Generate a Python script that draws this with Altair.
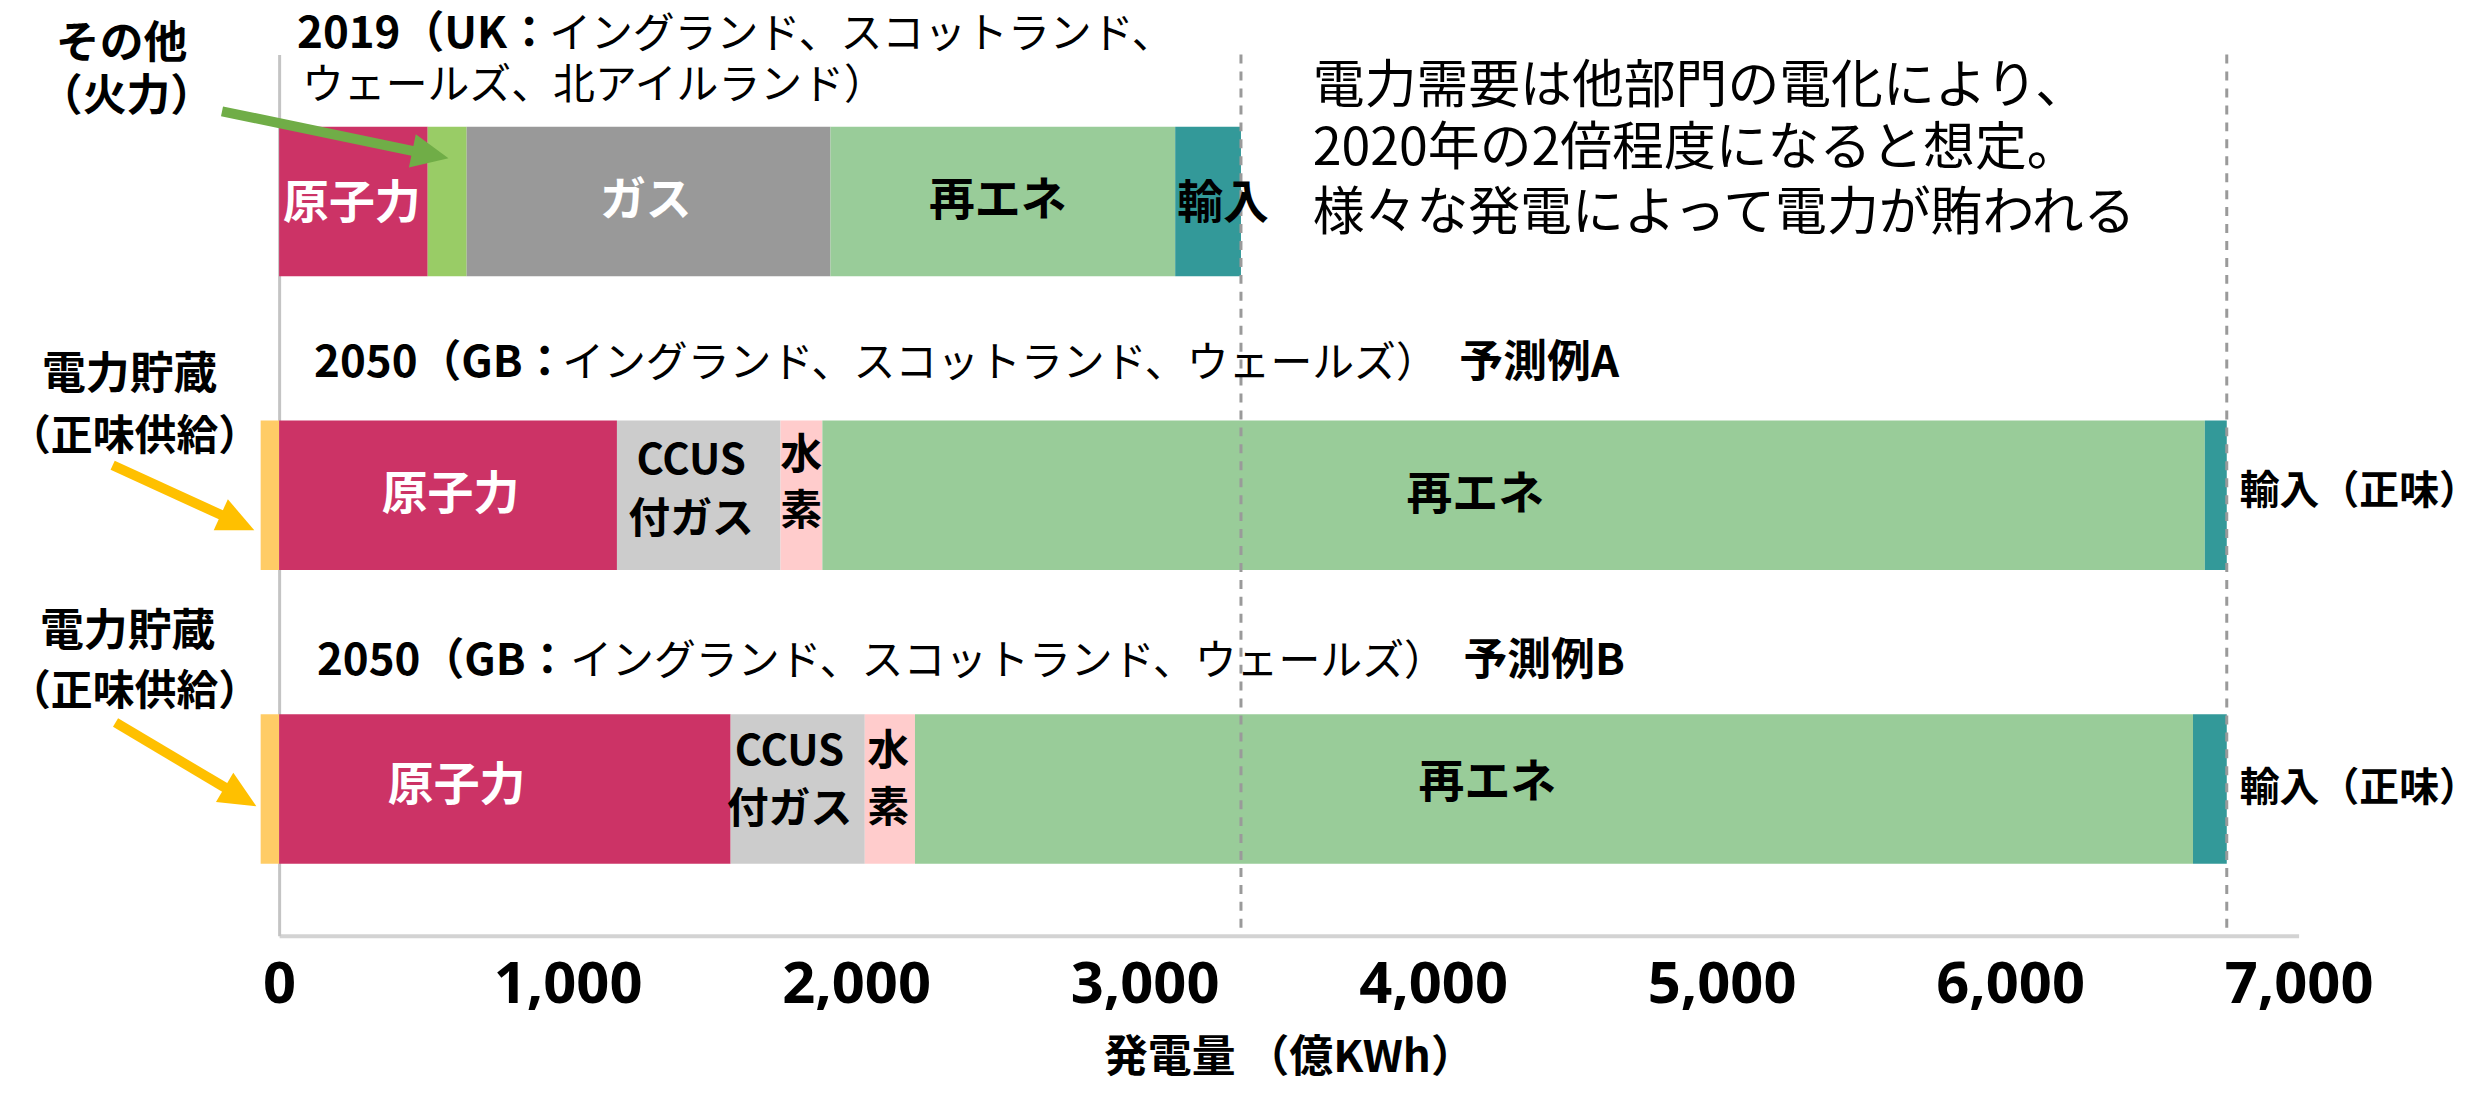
import math
import altair as alt
import pandas as pd

# ---------------- data (億kWh) ----------------
row_names = ["2019 UK", "2050 GB 予測例A", "2050 GB 予測例B"]
row_index = [0, 1, 2]

segment_sources = [
    ["原子力", "その他（火力）", "ガス", "再エネ", "輸入"],
    ["原子力", "CCUS付ガス", "水素", "再エネ", "輸入（正味）"],
    ["原子力", "CCUS付ガス", "水素", "再エネ", "輸入（正味）"],
]
segment_values = [
    [515, 135, 1261, 1195, 228],
    [1171, 567, 145, 4792, 76],
    [1565, 465, 174, 4430, 117],
]
storage_values = [0, 64, 64]  # 電力貯蔵（正味供給）: drawn to the left of zero

source_domain = ["電力貯蔵", "原子力", "その他（火力）", "ガス", "CCUS付ガス", "水素", "再エネ", "輸入", "輸入（正味）"]
source_colors = ["#FFCC66", "#CC3366", "#99CC66", "#999999", "#CCCCCC", "#FFCCCC", "#99CC99", "#339999", "#339999"]

x_ticks = [0, 1000, 2000, 3000, 4000, 5000, 6000, 7000]

# labels inside / next to the bars (x in 億kWh, y in row units)
white_text = ["原子力", "ガス", "原子力", "原子力"]
white_x = [252, 1271, 594, 615]
white_y = [0.01, 0.0, 1.0, 1.99]

black_text = ["再エネ", "輸入", "再エネ", "再エネ"]
black_x = [2491, 3272, 4146, 4188]
black_y = [0.0, 0.01, 1.0, 1.98]

net_import_text = ["輸入（正味）", "輸入（正味）"]
net_import_x = [6796, 6796]
net_import_y = [0.99, 2.0]

small_text = ["CCUS", "付ガス", "水", "素", "CCUS", "付ガス", "水", "素"]
small_x = [1428, 1428, 1810, 1810, 1769, 1769, 2111, 2111]
small_y = [0.885, 1.085, 0.868, 1.058, 1.876, 2.072, 1.876, 2.069]

# bar titles
title_bold_text = ["2019（UK：", "2050（GB：", "予測例A", "2050（GB：", "予測例B"]
title_bold_x = [62, 121, 4091, 131, 4105]
title_bold_y = [-0.568, 0.552, 0.552, 1.567, 1.567]
title_norm_text = ["イングランド、スコットランド、", "ウェールズ、北アイルランド）",
                   "イングランド、スコットランド、ウェールズ）", "イングランド、スコットランド、ウェールズ）"]
title_norm_x = [936, 79, 981, 1009]
title_norm_y = [-0.568, -0.393, 0.552, 1.567]

# note on the right
note_text = ["電力需要は他部門の電化により、", "2020年の2倍程度になると想定。", "様々な発電によって電力が賄われる"]
note_x = [3583, 3583, 3583]
note_y = [-0.391, -0.178, 0.043]

# call-outs on the left
callout_text = ["その他", "（火力）", "電力貯蔵", "電力貯蔵"]
callout_x = [-546, -529, -518, -525]
callout_y = [-0.531, -0.351, 0.593, 1.468]
callout2_text = ["（正味供給）", "（正味供給）"]
callout2_x = [-501, -501]
callout2_y = [0.803, 1.669]

# arrows (start -> tip)
green_arrow = dict(xs=[-198], ys=[-0.307], xt=[587], yt=[-0.147])
yellow_arrow = dict(xs=[-577, -567], ys=[0.898, 1.774], xt=[-86, -79], yt=[1.119, 2.059])

# ---------------- layout constants ----------------
W, H = 2026, 884
X_MAX = 7000
N_ROWS = 3
BAR_HALF = 0.2545
KX = W / X_MAX
KY = H / N_ROWS
HEAD_LEN = 37
JP = "Noto Sans CJK JP"

# ---------------- tables ----------------
bar_rows = []
for r, srcs, vals, st in zip(row_index, segment_sources, segment_values, storage_values):
    if st:
        bar_rows.append(dict(src="電力貯蔵", x=-st, x2=0, y=r - BAR_HALF, y2=r + BAR_HALF))
    start = 0
    for s, v in zip(srcs, vals):
        bar_rows.append(dict(src=s, x=start, x2=start + v, y=r - BAR_HALF, y2=r + BAR_HALF))
        start += v
bars_df = pd.DataFrame(bar_rows)

totals = [sum(segment_values[0]), sum(segment_values[1])]
rules_df = pd.DataFrame(dict(x=totals, y=[-0.5] * 2, y2=[N_ROWS - 0.5] * 2))


def arrow_tables(a):
    shafts, heads = [], []
    for xs, ys, xt, yt in zip(a["xs"], a["ys"], a["xt"], a["yt"]):
        dxp = (xt - xs) * KX
        dyp = (yt - ys) * KY
        L = math.hypot(dxp, dyp)
        ang = math.degrees(math.atan2(dyp, dxp)) % 360
        back = HEAD_LEN * 0.8
        xe = xt - back * dxp / L / KX
        ye = yt - back * dyp / L / KY
        shafts.append(dict(x=xs, y=ys, x2=xe, y2=ye))
        heads.append(dict(x=xt, y=yt, angle=ang))
    return pd.DataFrame(shafts), pd.DataFrame(heads)


def tdf(t, x, y):
    return pd.DataFrame(dict(t=t, x=x, y=y))


xscale = alt.Scale(domain=[0, X_MAX], nice=False, zero=False)
yscale = alt.Scale(domain=[-0.5, N_ROWS - 0.5], reverse=True, nice=False, zero=False)
xaxis = alt.Axis(values=x_ticks, format=",d", labelFont="Open Sans", labelFontWeight="bold",
                 labelFontSize=58, labelColor="#000000", labelPadding=50, labelBaseline="middle",
                 labelFlush=False, labelOverlap=False, ticks=False, tickSize=0, grid=False,
                 domainColor="#D3D3D3", domainWidth=4,
                 title="発電量 （億KWh）", titleFont=JP, titleFontSize=44, titleFontWeight="bold",
                 titleColor="#000000", titleY=123, titleBaseline="middle")
yaxis = alt.Axis(labels=False, ticks=False, grid=False, domainColor="#C4C4C4", domainWidth=3)

X = alt.X("x:Q", scale=xscale, axis=xaxis)
Y = alt.Y("y:Q", scale=yscale, axis=yaxis, title=None)

bars = alt.Chart(bars_df).mark_rect().encode(
    x=X, x2="x2:Q", y=Y, y2="y2:Q",
    color=alt.Color("src:N", scale=alt.Scale(domain=source_domain, range=source_colors), legend=None),
)

rules = alt.Chart(rules_df).mark_rule(color="#9A9A9A", strokeWidth=3, strokeDash=[9, 8]).encode(
    x=X, y=Y, y2="y2:Q"
)


def arrow_layers(a, color):
    s_df, h_df = arrow_tables(a)
    shaft = alt.Chart(s_df).mark_rule(color=color, strokeWidth=10, strokeCap="butt").encode(
        x=X, y=Y, x2="x2:Q", y2="y2:Q")
    head = alt.Chart(h_df).mark_point(shape="M0,0L-2,-0.92L-2,0.92Z", filled=True, size=HEAD_LEN ** 2,
                                      color=color, opacity=1, strokeWidth=0).encode(
        x=X, y=Y, angle=alt.Angle("angle:Q", scale=None))
    return [shaft, head]


def text_layer(df, size, weight="bold", color="#000000", align="center"):
    return alt.Chart(df).mark_text(font=JP, fontSize=size, fontWeight=weight, color=color,
                                   align=align, baseline="middle").encode(x=X, y=Y, text="t:N")


layers = [bars, rules]
layers += arrow_layers(green_arrow, "#70AD47")
layers += arrow_layers(yellow_arrow, "#FFC000")
layers += [
    text_layer(tdf(white_text, white_x, white_y), 46, color="#FFFFFF"),
    text_layer(tdf(black_text, black_x, black_y), 46),
    text_layer(tdf(net_import_text, net_import_x, net_import_y), 40, align="left"),
    text_layer(tdf(small_text, small_x, small_y), 42),
    text_layer(tdf(title_bold_text, title_bold_x, title_bold_y), 44, align="left"),
    text_layer(tdf(title_norm_text, title_norm_x, title_norm_y), 42, weight="normal", align="left"),
    text_layer(tdf(note_text, note_x, note_y), 52, weight="normal", align="left"),
    text_layer(tdf(callout_text, callout_x, callout_y), 44),
    text_layer(tdf(callout2_text, callout2_x, callout2_y), 42),
]

chart = alt.layer(*layers).properties(
    width=W, height=H,
    autosize=alt.AutoSizeParams(type="none"),
    padding={"left": 272, "top": 45, "right": 185, "bottom": 157},
    background="#FFFFFF",
).configure_view(strokeWidth=0)

chart.save("out.html", embed_options={"renderer": "svg", "actions": False})
